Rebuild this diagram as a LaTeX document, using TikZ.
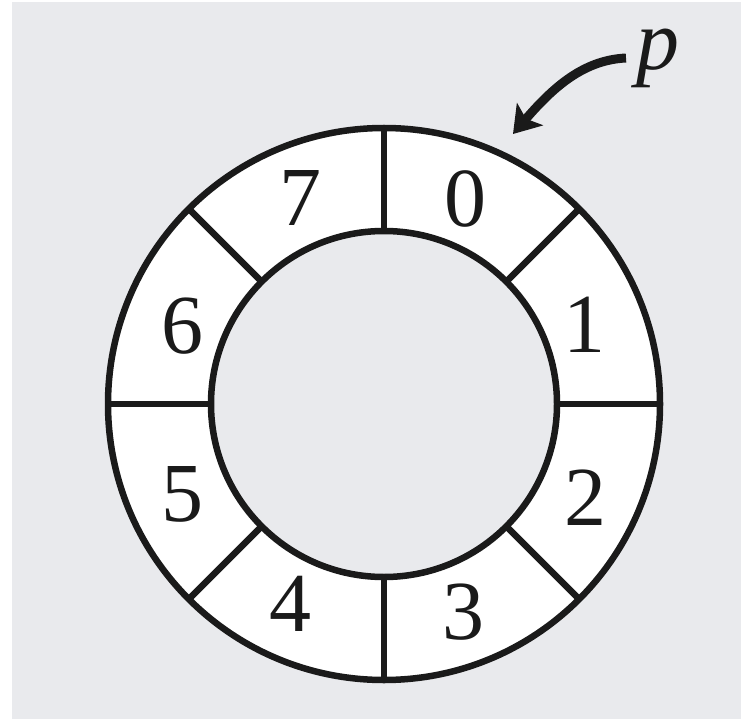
\documentclass[tikz,border=0pt]{standalone}
\usepackage{fontspec}
\setmainfont{Liberation Serif}
\usetikzlibrary{arrows.meta,calc}
\definecolor{bggray}{RGB}{233,234,237}
\definecolor{ink}{RGB}{26,26,26}
\tikzset{
  ringline/.style={draw=ink, line width=6.5pt},
  digit/.style={font=\fontsize{84}{84}\selectfont, text=ink, inner sep=0pt},
  pointer/.style={draw=ink, line width=9pt, -{Stealth[length=26pt,width=34pt,inset=6pt]}}
}
\begin{document}
\begin{tikzpicture}[x=1pt,y=-1pt]
\useasboundingbox (0,0) rectangle (741,719);
\fill[white] (0,0) rectangle (741,719);
\fill[bggray] (12,2) rectangle (741,719);
\coordinate (c) at (384,404);
% ring fill
\fill[white, even odd rule] (c) circle[radius=276] (c) circle[radius=173];
% dividers
\foreach \a in {0,45,...,315}{
  \draw[ringline] ($(c)+(\a:173)$) -- ($(c)+(\a:276)$);
}
\draw[ringline] (c) circle[radius=276];
\draw[ringline] (c) circle[radius=173];
% labels
\node[digit] (d0) at (465,199) {0};
\node[digit] (d1) at (584,325) {1};
\node[digit] (d2) at (585,498) {2};
\node[digit] (d3) at (463,612) {3};
\node[digit] (d4) at (290,604) {4};
\node[digit] (d5) at (182,494) {5};
\node[digit] (d6) at (182,326) {6};
\node[digit] (d7) at (300,198) {7};
\node[digit, font=\fontsize{86}{86}\selectfont\itshape] (p) at (658,58) {p};
\coordinate (s) at (626,58);
\coordinate (t) at (513,134);
\draw[pointer] (s) .. controls (585,60) and (555,85) .. (t);
\end{tikzpicture}
\end{document}
